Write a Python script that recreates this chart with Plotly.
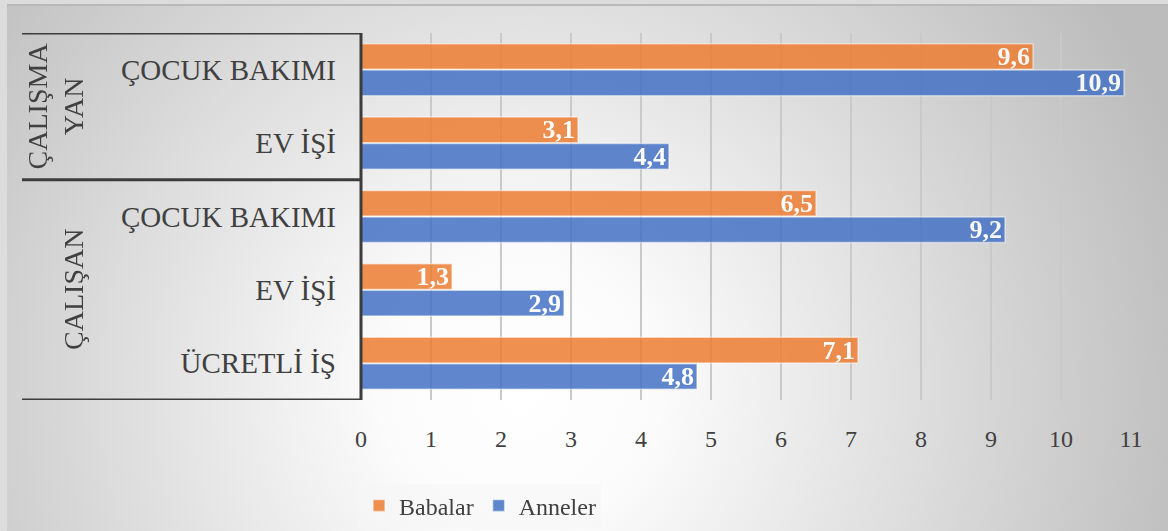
import base64
import plotly.graph_objects as go

# ---- data ----
groups = ["ÇALIŞMA<br>YAN", "ÇALIŞAN"]
categories = ["ÇOCUK BAKIMI", "EV İŞİ", "ÇOCUK BAKIMI", "EV İŞİ", "ÜCRETLİ İŞ"]
category_group = [0, 0, 1, 1, 1]
babalar = [9.6, 3.1, 6.5, 1.3, 7.1]
anneler = [10.9, 4.4, 9.2, 2.9, 4.8]
x_ticks = list(range(0, 12))

W, H = 1168, 531
L, R, T, B = 361, 37, 33, 131
PW, PH = W - L - R, H - T - B

pos = list(range(len(categories)))

# ---- background gradient as SVG image ----
svg = f'''<svg xmlns="http://www.w3.org/2000/svg" width="{W}" height="{H}">
<defs><radialGradient id="g" gradientUnits="userSpaceOnUse" cx="520" cy="390" r="700">
<stop offset="0" stop-color="#ffffff"/><stop offset="0.2" stop-color="#fbfbfb"/>
<stop offset="1" stop-color="#bcbcbc"/></radialGradient></defs>
<rect x="0" y="0" width="{W}" height="{H}" fill="#dcdcdc"/>
<rect x="7" y="5" width="{W-7}" height="{H-5}" fill="url(#g)"/>
<line x1="7" y1="5" x2="{W}" y2="5" stroke="#b9b9b9" stroke-width="2"/>
</svg>'''
bg_uri = "data:image/svg+xml;base64," + base64.b64encode(svg.encode("utf-8")).decode()

def px_x(p):
    return (p - L) / PW

def px_y(p):
    return 1 - (p - T) / PH

fig = go.Figure()
common = dict(
    y=pos, orientation="h", opacity=0.85,
    texttemplate="%{x:.1f}", textposition="inside", insidetextanchor="end",
    constraintext="none", cliponaxis=False,
    textfont=dict(family="Liberation Serif", size=26, color="white", weight="bold"),
)
fig.add_trace(go.Bar(name="Babalar", x=babalar, marker=dict(color="#ED7D31", line=dict(color="rgba(255,255,255,0.55)", width=1.5)), **common))
fig.add_trace(go.Bar(name="Anneler", x=anneler, marker=dict(color="#4472C4", line=dict(color="rgba(255,255,255,0.55)", width=1.5)), **common))

line_style = dict(color="#3c3c3c", width=3)
shapes = []
x_left = px_x(22)
for yv in [-0.5, 1.5, 4.5]:
    shapes.append(dict(type="line", xref="paper", yref="y", x0=x_left, x1=0, y0=yv, y1=yv, line=line_style, layer="above"))
shapes.append(dict(type="line", xref="paper", yref="y", x0=0, x1=0, y0=-0.5, y1=4.5, line=line_style, layer="above"))

annotations = []
group_x = [px_x(55), px_x(74)]
for gi, gname in enumerate(groups):
    idx = [i for i, g in enumerate(category_group) if g == gi]
    ymid = (min(idx) + max(idx)) / 2
    annotations.append(dict(
        text=gname, xref="paper", yref="y", x=group_x[gi], y=ymid, showarrow=False,
        textangle=-90, font=dict(family="Liberation Serif", size=28, color="#404040"),
        xanchor="center", yanchor="middle",
    ))

fig.update_layout(
    width=W, height=H,
    margin=dict(l=L, r=R, t=T, b=B, autoexpand=False),
    paper_bgcolor="#d0d0d0", plot_bgcolor="rgba(0,0,0,0)",
    barmode="group", bargap=0.28, bargroupgap=0.03,
    separators=",.",
    showlegend=True,
    legend=dict(orientation="h", x=px_x(480), xanchor="center", y=px_y(506), yanchor="middle",
                bgcolor="rgba(245,245,245,0.55)",
                font=dict(family="Liberation Serif", size=24, color="#404040"),
                itemwidth=30, tracegroupgap=0),
    xaxis=dict(range=[0, 11], tickvals=x_ticks, ticktext=[str(v) for v in x_ticks],
               showgrid=True, gridcolor="#c9c9c9", gridwidth=1.5, zeroline=False, showline=False,
               tickfont=dict(family="Liberation Serif", size=24, color="#404040"),
               ticklabelstandoff=22, fixedrange=True, automargin=False),
    yaxis=dict(range=[4.5, -0.5], tickvals=pos, ticktext=categories, showgrid=False, zeroline=False,
               showline=False, tickfont=dict(family="Liberation Serif", size=29, color="#404040"),
               ticklabelstandoff=24, fixedrange=True, automargin=False),
    shapes=shapes, annotations=annotations,
    images=[dict(source=bg_uri, xref="paper", yref="paper", x=px_x(0), y=px_y(0),
                 sizex=W / PW, sizey=H / PH, xanchor="left", yanchor="top",
                 sizing="stretch", layer="below")],
    font=dict(family="Liberation Serif"),
)

fig.write_html("out.html", config={"displayModeBar": False},
               post_script="document.body.style.margin='0';document.body.style.padding='0';")
